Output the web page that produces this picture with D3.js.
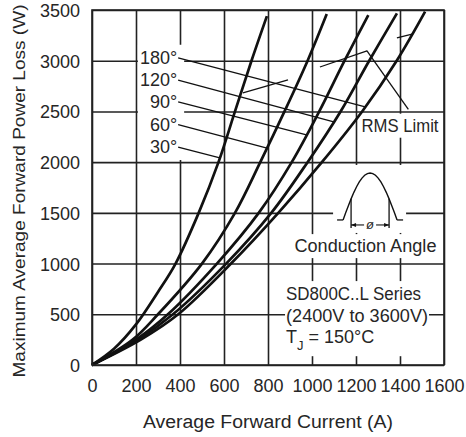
<!DOCTYPE html>
<html>
<head>
<meta charset="utf-8">
<script src="https://cdn.jsdelivr.net/npm/d3@7"></script>
<style>
body{margin:0;background:#fff}
text{font-family:"Liberation Sans",Arial,sans-serif;fill:#262626}
</style>
</head>
<body>
<div id="chart"></div>
<script>
// data: [current A, power W]
var xTicks=[0,200,400,600,800,1000,1200,1400,1600];
var yTicks=[0,500,1000,1500,2000,2500,3000,3500];
var angleLabels=["180°","120°","90°","60°","30°"];
var curve30=[[0,0],[100,160],[200,400],[300,720],[380,1000],[485,1500],[575,2000],[650,2500],[725,3000],[795,3440]];
var curve60=[[0,0],[185,250],[300,500],[500,1000],[650,1500],[765,2000],[875,2500],[980,3000],[1067,3460]];
var curve90=[[0,0],[200,250],[345,500],[568,1000],[758,1500],[908,2000],[1033,2500],[1148,3000],[1256,3450]];
var curve120=[[0,0],[210,250],[368,500],[610,1000],[815,1500],[980,2000],[1130,2500],[1260,3000],[1386,3467]];
var curve180=[[0,0],[222,250],[392,500],[632,1000],[847,1500],[1045,2000],[1228,2500],[1385,3000],[1514,3484]];
var labelLoad=[2970,2750,2535,2310,2090];   // label baselines (W)
var leaderLoad=[2544,2396,2268,2139,2041];  // where each leader meets its curve (W)
var rmsLimit=[[[686,2682],[891,2810]],[[1036,2938],[1250,3096]],[[1386,3224],[1455,3263]]];
var rmsPointer=[[1249,3099],[1438,2521]];

var width=466, height=437;
var marge={top:10,bottom:72,left:92,right:22};
var svg=d3.select('#chart').append('svg')
    .attr('width',width).attr('height',height);

var xScale=d3.scaleLinear().domain([0,1600]).range([marge.left,width-marge.right]);
var yScale=d3.scaleLinear().domain([0,3500]).range([height-marge.bottom,marge.top]);
var plotW=width-marge.left-marge.right, plotH=height-marge.top-marge.bottom;

// axes + grid
var gx=svg.append('g')
    .attr('transform','translate(0,'+(height-marge.bottom)+')')
    .call(d3.axisBottom(xScale).tickValues(xTicks).tickFormat(d3.format('d'))
      .tickSize(-plotH).tickPadding(14));
var gy=svg.append('g')
    .attr('transform','translate('+marge.left+',0)')
    .call(d3.axisLeft(yScale).tickValues(yTicks).tickFormat(d3.format('d'))
      .tickSize(-plotW).tickPadding(12));
[gx,gy].forEach(function(g){
  g.select('.domain').remove();
  g.selectAll('line').attr('stroke','#222').attr('stroke-width',1.6);
  g.selectAll('text').attr('font-size',18).attr('fill','#262626')
    .attr('font-family','"Liberation Sans",Arial,sans-serif');
});
gy.selectAll('text').attr('dy','0.36em');

var bgLayer=svg.append('g');
var curveLayer=svg.append('g');
var textLayer=svg.append('g');

function bg(nodes,px,py,extraRight){
  var x0=1e9,y0=1e9,x1=-1e9,y1=-1e9;
  nodes.forEach(function(n){
    var b=n.getBBox();
    x0=Math.min(x0,b.x); y0=Math.min(y0,b.y);
    x1=Math.max(x1,b.x+b.width); y1=Math.max(y1,b.y+b.height);
  });
  bgLayer.append('rect')
    .attr('x',x0-px).attr('y',y0-py)
    .attr('width',x1-x0+2*px+(extraRight||0)).attr('height',y1-y0+2*py)
    .attr('fill','#fff');
}

// curves
var line=d3.line()
    .x(function(d){return xScale(d[0]);})
    .y(function(d){return yScale(d[1]);})
    .curve(d3.curveCatmullRom.alpha(0.5));
var curves=[curve180,curve120,curve90,curve60,curve30];
curveLayer.selectAll('.curve')
    .data(curves)
    .enter()
    .append('path')
    .attr('d',line)
    .attr('fill','none')
    .attr('stroke','#111')
    .attr('stroke-width',2.7)
    .attr('stroke-linejoin','round');

// frame
svg.append('rect')
    .attr('x',marge.left).attr('y',marge.top)
    .attr('width',plotW).attr('height',plotH)
    .attr('fill','none').attr('stroke','#222').attr('stroke-width',1.6);

function currentAt(c,w){
  for(var i=1;i<c.length;i++){
    if(c[i][1]>=w){
      var t=(w-c[i-1][1])/(c[i][1]-c[i-1][1]);
      return c[i-1][0]+t*(c[i][0]-c[i-1][0]);
    }
  }
  return c[c.length-1][0];
}

// angle labels with leader lines
var labelX=xScale(387);
var lbls=[];
angleLabels.forEach(function(t,i){
  var tx=textLayer.append('text')
      .attr('x',labelX).attr('y',yScale(labelLoad[i]))
      .attr('text-anchor','end').attr('font-size',18)
      .text(t);
  lbls.push(tx.node());
  var y0=yScale(labelLoad[i])-6;
  textLayer.append('line')
      .attr('x1',labelX+1).attr('y1',y0)
      .attr('x2',xScale(currentAt(curves[i],leaderLoad[i])))
      .attr('y2',yScale(leaderLoad[i]))
      .attr('stroke','#111').attr('stroke-width',1.3);
});
bg(lbls,2,3,5);

// RMS limit
rmsLimit.forEach(function(s){
  textLayer.append('line')
      .attr('x1',xScale(s[0][0])).attr('y1',yScale(s[0][1]))
      .attr('x2',xScale(s[1][0])).attr('y2',yScale(s[1][1]))
      .attr('stroke','#111').attr('stroke-width',1.3);
});
textLayer.append('line')
    .attr('x1',xScale(rmsPointer[0][0])).attr('y1',yScale(rmsPointer[0][1]))
    .attr('x2',xScale(rmsPointer[1][0])).attr('y2',yScale(rmsPointer[1][1]))
    .attr('stroke','#111').attr('stroke-width',1.3);
var rms=textLayer.append('text')
    .attr('x',xScale(1225)).attr('y',yScale(2300))
    .attr('font-size',18).attr('textLength',77).attr('lengthAdjust','spacingAndGlyphs')
    .text('RMS Limit');
bg([rms.node()],2,2);

// conduction angle icon
var cx=xScale(1264), base=yScale(1430);
var hw=27, hh=47, fire=19;
var ic=textLayer.append('g');
var pts=d3.range(0,1.0001,0.05).map(function(t){
  return [cx-hw+2*hw*t, base-hh*Math.sin(Math.PI*t)];
});
ic.append('path').attr('d',d3.line()(pts))
    .attr('fill','none').attr('stroke','#111').attr('stroke-width',1.4);
[-1,1].forEach(function(s){
  var fx=cx+s*fire;
  var fy=base-hh*Math.sin(Math.PI*(fx-(cx-hw))/(2*hw));
  ic.append('line').attr('x1',fx).attr('y1',fy).attr('x2',fx).attr('y2',base+8)
      .attr('stroke','#111').attr('stroke-width',1.3);
  ic.append('line').attr('x1',cx+s*hw).attr('y1',base).attr('x2',cx+s*(hw+6)).attr('y2',base)
      .attr('stroke','#111').attr('stroke-width',1.3);
  ic.append('line').attr('x1',cx+s*6).attr('y1',base+5).attr('x2',fx).attr('y2',base+5)
      .attr('stroke','#111').attr('stroke-width',1.1);
  ic.append('path')
      .attr('d','M'+fx+','+(base+5)+'L'+(fx-s*5)+','+(base+3)+'L'+(fx-s*5)+','+(base+7)+'Z')
      .attr('fill','#111');
});
ic.append('text').attr('x',cx).attr('y',base+9)
    .attr('text-anchor','middle').attr('font-size',13).attr('font-style','italic')
    .text('ø');
bgLayer.append('rect').attr('x',cx-37).attr('y',base-55).attr('width',73).attr('height',68)
    .attr('fill','#fff');

var ca=textLayer.append('text')
    .attr('x',xScale(1243)).attr('y',yScale(1113))
    .attr('text-anchor','middle').attr('font-size',18)
    .attr('textLength',142).attr('lengthAdjust','spacingAndGlyphs')
    .text('Conduction Angle');
bg([ca.node()],2,2);

// series block
var blockX=xScale(882);
var s1=textLayer.append('text').attr('x',blockX).attr('y',yScale(640))
    .attr('font-size',18).attr('textLength',135).attr('lengthAdjust','spacingAndGlyphs')
    .text('SD800C..L Series');
var s2=textLayer.append('text').attr('x',blockX).attr('y',yScale(428))
    .attr('font-size',18).attr('textLength',142).attr('lengthAdjust','spacingAndGlyphs')
    .text('(2400V to 3600V)');
var s3=textLayer.append('text').attr('x',blockX).attr('y',yScale(215)).attr('font-size',18);
s3.append('tspan').text('T');
s3.append('tspan').attr('dy',7).attr('font-size',13).text('J');
s3.append('tspan').attr('dy',-7).text(' = 150°C');
bg([s1.node(),s2.node(),s3.node()],1,3);

// axis titles
textLayer.append('text')
    .attr('x',(marge.left+width-marge.right)/2).attr('y',428)
    .attr('text-anchor','middle').attr('font-size',18)
    .attr('textLength',250).attr('lengthAdjust','spacingAndGlyphs')
    .text('Average Forward Current (A)');
textLayer.append('text')
    .attr('transform','translate(25,191) rotate(-90)')
    .attr('text-anchor','middle').attr('font-size',17)
    .attr('textLength',373).attr('lengthAdjust','spacingAndGlyphs')
    .text('Maximum Average Forward Power Loss (W)');
</script>
</body>
</html>
